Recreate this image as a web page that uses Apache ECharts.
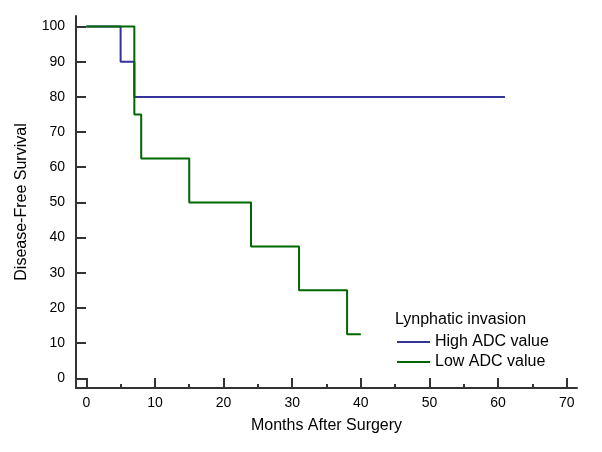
<!DOCTYPE html>
<html>
<head>
<meta charset="utf-8">
<script src="https://cdn.jsdelivr.net/npm/echarts@6/dist/echarts.min.js"></script>
<style>html,body{margin:0;padding:0;background:#fff;}#c{width:602px;height:452px;}</style>
</head>
<body>
<div id="c"></div>
<script>
var highMonths = [0, 5, 7, 61];
var highSurvival = [100, 90, 80, 80];
var lowMonths = [0, 7, 8, 15, 24, 31, 38, 40];
var lowSurvival = [100, 75, 62.5, 50, 37.5, 25, 12.5, 12.5];
var xMajorTicks = [0, 10, 20, 30, 40, 50, 60, 70];
var xMinorTicks = [5, 15, 25, 35, 45, 55, 65];
var yTicks = [0, 10, 20, 30, 40, 50, 60, 70, 80, 90, 100];
var seriesNames = ['High ADC value', 'Low ADC value'];
var legendTitle = 'Lynphatic invasion';

function pairs(xs, ys) { return xs.map(function (x, i) { return [x, ys[i]]; }); }

var FONT = 'Liberation Sans';
var chart = echarts.init(document.getElementById('c'));
chart.setOption({
  animation: false,
  backgroundColor: '#fff',
  title: {
    text: legendTitle, left: 395, top: 312, padding: 0,
    textStyle: { fontSize: 16, fontWeight: 'normal', color: '#000', fontFamily: FONT }
  },
  legend: {
    data: seriesNames, orient: 'vertical', left: 397, top: 334, padding: 0,
    itemGap: 4, itemWidth: 33, itemHeight: 2, icon: 'rect',
    textStyle: { fontSize: 16, color: '#000', fontFamily: FONT }
  },
  grid: { left: 76, right: 25, top: 16, bottom: 64 },
  xAxis: [{
    type: 'value', min: -1.5, max: 71.5, position: 'bottom',
    name: 'Months After Surgery', nameLocation: 'middle', nameGap: 30,
    nameTextStyle: { fontSize: 16, color: '#000', fontFamily: FONT },
    axisLine: { show: true, onZero: false, lineStyle: { color: '#333', width: 2 } },
    axisTick: { show: true, inside: true, length: 10, customValues: xMajorTicks, lineStyle: { color: '#333', width: 2 } },
    axisLabel: { customValues: xMajorTicks, fontSize: 14, color: '#000', margin: 8, fontFamily: FONT },
    splitLine: { show: false }
  }, {
    type: 'value', min: -1.5, max: 71.5, position: 'bottom',
    axisLine: { show: false, onZero: false },
    axisTick: { show: true, inside: true, length: 4, customValues: xMinorTicks, lineStyle: { color: '#333', width: 2 } },
    axisLabel: { show: false },
    splitLine: { show: false }
  }],
  yAxis: {
    type: 'value', min: -2.76, max: 103,
    name: 'Disease-Free Survival', nameLocation: 'middle', nameGap: 46,
    nameTextStyle: { fontSize: 16, color: '#000', fontFamily: FONT },
    axisLine: { show: true, onZero: false, lineStyle: { color: '#333', width: 2 } },
    axisTick: { show: true, inside: true, length: 10, customValues: yTicks, lineStyle: { color: '#333', width: 2 } },
    axisLabel: { customValues: yTicks, fontSize: 14, color: '#000', margin: 11, fontFamily: FONT },
    splitLine: { show: false }
  },
  series: [{
    name: seriesNames[0], type: 'line', step: 'end', symbol: 'none', showSymbol: false,
    xAxisIndex: 0, data: pairs(highMonths, highSurvival),
    itemStyle: { color: '#333399' }, lineStyle: { color: '#333399', width: 2 }
  }, {
    name: seriesNames[1], type: 'line', step: 'end', symbol: 'none', showSymbol: false,
    xAxisIndex: 0, data: pairs(lowMonths, lowSurvival),
    itemStyle: { color: '#006600' }, lineStyle: { color: '#006600', width: 2 }
  }]
});
</script>
</body>
</html>
